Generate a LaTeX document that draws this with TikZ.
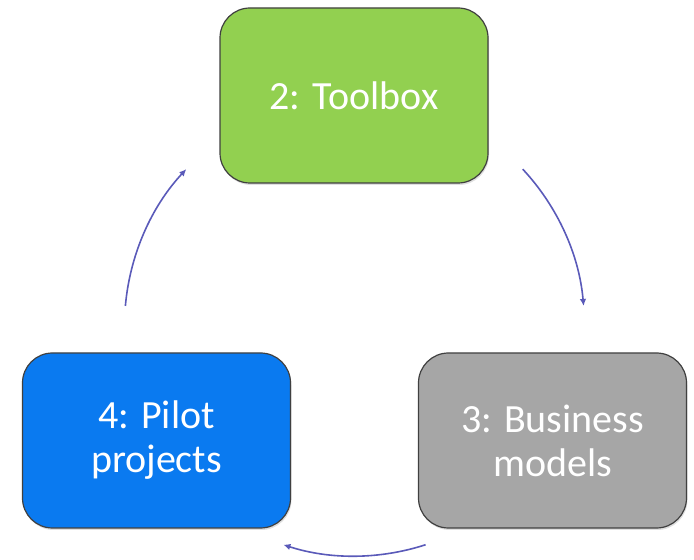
\documentclass[tikz,border=0pt]{standalone}
\usepackage{fontspec}
\setmainfont{Carlito}
\usepackage{tikz}
\usetikzlibrary{shadows, arrows.meta}
\definecolor{verde}{RGB}{146,208,80}
\definecolor{gris}{RGB}{166,166,166}
\definecolor{azul}{RGB}{10,122,240}
\definecolor{flecha}{RGB}{90,90,185}
\tikzset{
  caja/.style={draw=black!75, line width=1.2pt, rounded corners=30pt,
    minimum width=268pt, minimum height=175pt, text=white, align=center,
    font=\fontsize{40}{44}\selectfont,
    drop shadow={shadow xshift=1pt, shadow yshift=-2pt, opacity=0.25}},
  ciclo/.style={draw=flecha, line width=1.6pt, -{Latex[length=7pt,width=6.5pt]}}
}

\begin{document}
\begin{tikzpicture}[x=1pt,y=1pt] % coordenadas en pixeles, y hacia arriba
\newcommand{\radio}{230}
\useasboundingbox (0,0) rectangle (694,560);
\coordinate (C) at (354.5,234); % centro del ciclo

\node[caja, fill=verde] (toolbox) at (354,464.5) {2: Toolbox};
\node[caja, fill=gris] (business) at (552.5,119.5) {3: Business\\models};
\node[caja, fill=azul] (pilot) at (156.5,119.5) {4: Pilot\\projects};

\coordinate (A) at ([shift={(43:\radio)}]C);
\coordinate (B) at ([shift={(-72:\radio)}]C);
\coordinate (D) at ([shift={(175:\radio)}]C);

\draw[ciclo] (A) arc[start angle=43, end angle=5, radius=\radio];	% derecha
\draw[ciclo] (B) arc[start angle=-72, end angle=-108, radius=\radio];	% abajo
\draw[ciclo] (D) arc[start angle=175, end angle=137, radius=\radio];	% izquierda
\end{tikzpicture}
\end{document}
